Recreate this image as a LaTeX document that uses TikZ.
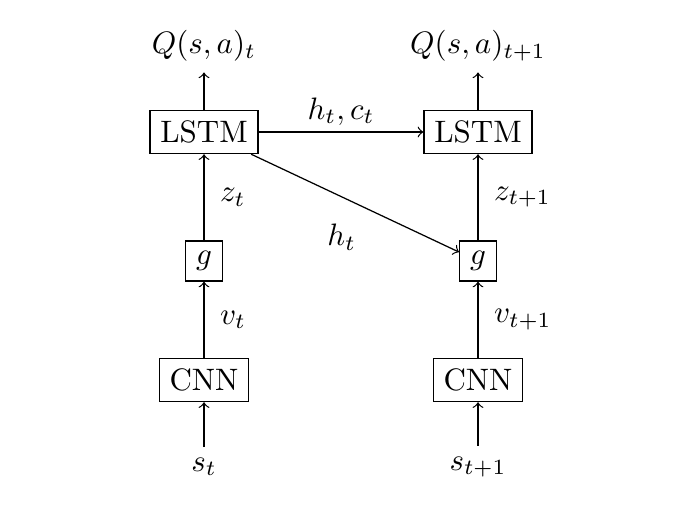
\documentclass[tikz,border=0pt]{standalone}
\usepackage{amsmath}
\begin{document}
\begin{tikzpicture}[x=0.3226pt,y=-0.3226pt,
  box/.style={draw,rectangle},
  lab/.style={inner sep=2pt},
  rlab/.style={right,inner sep=2pt,xshift=3pt},
  arr/.style={->}]
\useasboundingbox (0,0) rectangle (694,509);
\node[box] (lstm1) at (204,132) {LSTM};
\node[box] (lstm2) at (478,132) {LSTM};
\node[box] (g1) at (204,261) {$g$};
\node[box] (g2) at (478,261) {$g$};
\node[box] (cnn1) at (204,380) {CNN};
\node[box] (cnn2) at (478,380) {CNN};
\node (q1) at (204,46) {$Q(s,a)_t$};
\node (q2) at (478,46) {$Q(s,a)_{t+1}$};
\node (s1) at (204,467) {$s_t$};
\node (s2) at (478,467) {$s_{t+1}$};
\draw[arr] (s1) -- (cnn1);
\draw[arr] (s2) -- (cnn2);
\draw[arr] (cnn1) -- node[rlab] (v1) {$v_t$} (g1);
\draw[arr] (cnn2) -- node[rlab] (v2) {$v_{t+1}$} (g2);
\draw[arr] (g1) -- node[rlab] (z1) {$z_t$} (lstm1);
\draw[arr] (g2) -- node[rlab] (z2) {$z_{t+1}$} (lstm2);
\draw[arr] (lstm1) -- (q1);
\draw[arr] (lstm2) -- (q2);
\draw[arr] (lstm1) -- node[above,lab] (hc) {$h_t,c_t$} (lstm2);
\draw[arr] (lstm1) -- node[below left,lab,xshift=2.5pt,yshift=-4.5pt] (h) {$h_t$} (g2);
\end{tikzpicture}
\end{document}
